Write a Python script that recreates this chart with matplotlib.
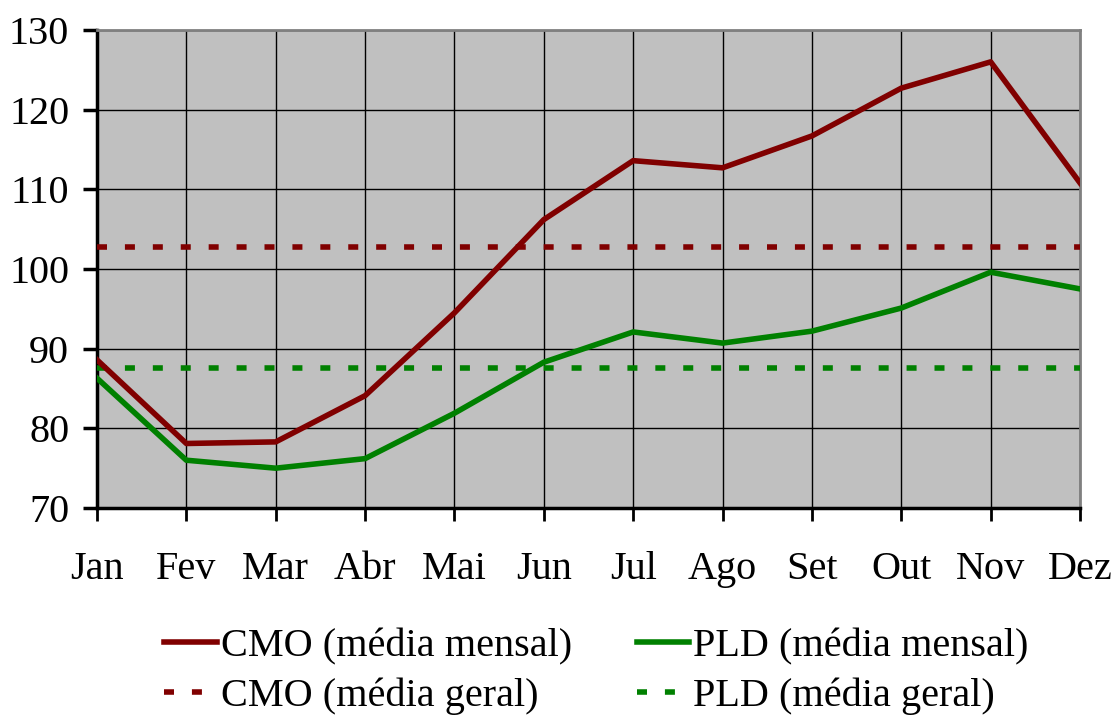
import numpy as np
import matplotlib
matplotlib.use("Agg")
import matplotlib.pyplot as plt

plt.rcParams['font.family'] = ['Liberation Serif', 'DejaVu Serif']
plt.rcParams['lines.scale_dashes'] = False

meses = ['Jan', 'Fev', 'Mar', 'Abr', 'Mai', 'Jun', 'Jul', 'Ago', 'Set', 'Out', 'Nov', 'Dez']
cmo_mensal = [88.6, 78.1, 78.3, 84.1, 94.5, 106.2, 113.6, 112.7, 116.7, 122.7, 126.0, 110.8]
pld_mensal = [86.3, 76.0, 75.0, 76.2, 81.9, 88.3, 92.1, 90.7, 92.2, 95.1, 99.6, 97.5]
cmo_geral = 102.7
pld_geral = 87.6

vermelho = '#800000'
verde = '#008000'

fig = plt.figure(figsize=(11.17, 7.21), dpi=100)
ax = fig.add_axes([0.0868, 0.2954, 0.8801, 0.663])
ax.set_facecolor('#c0c0c0')

x = np.arange(len(meses))
ax.plot(x, cmo_mensal, color=vermelho, lw=4, label='CMO (média mensal)', zorder=4)
ax.plot(x, pld_mensal, color=verde, lw=4, label='PLD (média mensal)', zorder=4)
ax.plot(x, [cmo_geral] * len(x), color=vermelho, lw=4, dashes=(7.2, 12.9),
        dash_capstyle='butt', label='CMO (média geral)', zorder=3)
ax.plot(x, [pld_geral] * len(x), color=verde, lw=4, dashes=(7.2, 12.9),
        dash_capstyle='butt', label='PLD (média geral)', zorder=3)

ax.set_xlim(0, 11)
ax.set_ylim(70, 130)
ax.set_xticks(x)
ax.set_xticklabels(meses)
ax.set_yticks(np.arange(70, 131, 10))

ax.grid(True, color='black', lw=1.0, zorder=1)
ax.set_axisbelow(True)

for s in ['top', 'right']:
    ax.spines[s].set_color('#808080')
    ax.spines[s].set_linewidth(2)
for s in ['left', 'bottom']:
    ax.spines[s].set_color('black')
    ax.spines[s].set_linewidth(2.5)

ax.tick_params(axis='x', direction='out', length=9, width=2, labelsize=29, pad=22)
ax.tick_params(axis='y', direction='out', length=10, width=2.5, labelsize=29, pad=10)

h, l = ax.get_legend_handles_labels()
order = [0, 2, 1, 3]
fig.legend([h[i] for i in order], [l[i] for i in order], ncol=2, loc='lower center',
           bbox_to_anchor=(0.534, -0.042), frameon=False, fontsize=29,
           handlelength=1.3, handletextpad=0.1, columnspacing=1.62, labelspacing=0.3)

fig.savefig('out.png', dpi=100)
